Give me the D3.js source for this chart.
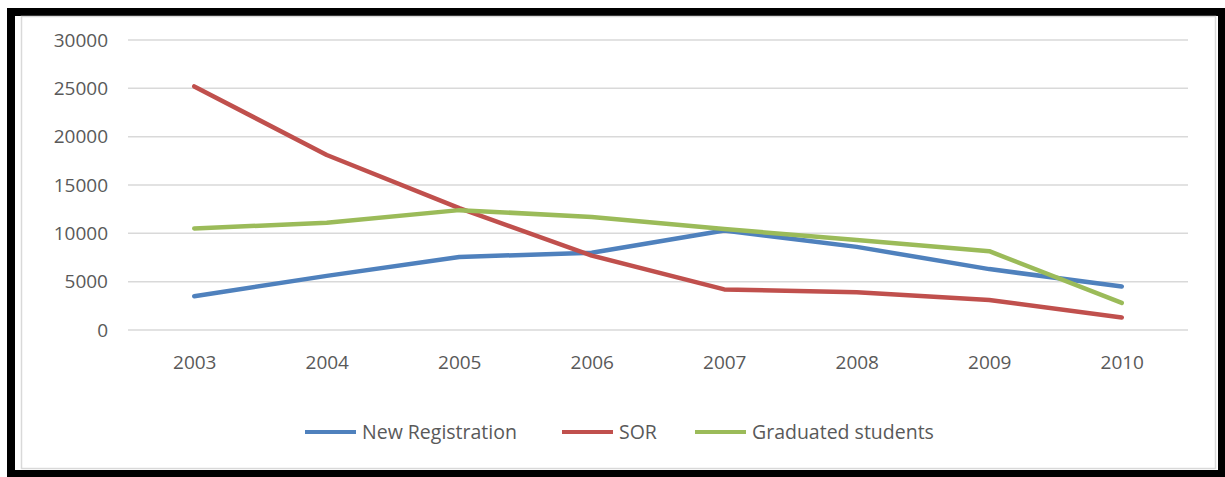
<!DOCTYPE html>
<html>
<head>
<meta charset="utf-8">
<script src="https://cdn.jsdelivr.net/npm/d3@7"></script>
<style>
  body { margin: 0; background: #fff; }
  text { font-family: "Open Sans", sans-serif; fill: #595959; }
</style>
</head>
<body>
<svg id="chart" width="1225" height="477"></svg>
<script>
const years = ["2003", "2004", "2005", "2006", "2007", "2008", "2009", "2010"];
const newRegistration = [3500, 5600, 7550, 8000, 10300, 8600, 6300, 4500];
const sor = [25200, 18100, 12600, 7700, 4200, 3900, 3100, 1300];
const graduated = [10500, 11100, 12400, 11700, 10450, 9300, 8150, 2800];
const yTicks = [0, 5000, 10000, 15000, 20000, 25000, 30000];

const series = [
  { name: "New Registration", values: newRegistration, color: "#4f81bd" },
  { name: "SOR", values: sor, color: "#c0504d" },
  { name: "Graduated students", values: graduated, color: "#9bbb59" }
];

const svg = d3.select("#chart");

// outer frame
svg.append("rect")
  .attr("x", 11).attr("y", 12)
  .attr("width", 1211).attr("height", 462)
  .attr("fill", "none")
  .attr("stroke", "#000")
  .attr("stroke-width", 8);
svg.append("rect")
  .attr("x", 21.5).attr("y", 16.5)
  .attr("width", 1194).attr("height", 452)
  .attr("fill", "none")
  .attr("stroke", "#d9d9d9")
  .attr("stroke-width", 1.5);

const x = d3.scalePoint()
  .domain(years)
  .range([128, 1188])
  .padding(0.5);

const y = d3.scaleLinear()
  .domain([0, 30000])
  .range([330, 40]);

// gridlines
svg.append("g")
  .selectAll("line")
  .data(yTicks)
  .enter()
  .append("line")
  .attr("x1", 128)
  .attr("x2", 1188)
  .attr("y1", d => y(d))
  .attr("y2", d => y(d))
  .attr("stroke", "#d9d9d9")
  .attr("stroke-width", 1.5);

const yAxis = svg.append("g")
  .attr("transform", "translate(108,0)")
  .call(d3.axisLeft(y).tickValues(yTicks).tickFormat(d3.format("d")).tickSize(0).tickPadding(0));
yAxis.select(".domain").remove();
yAxis.selectAll("text")
  .style("font-size", "19px")
  .style("font-family", "'Open Sans', sans-serif")
  .attr("fill", "#595959");

const xAxis = svg.append("g")
  .attr("transform", "translate(0,355)")
  .call(d3.axisBottom(x).tickSize(0).tickPadding(0));
xAxis.select(".domain").remove();
xAxis.selectAll("text")
  .style("font-size", "19px")
  .style("font-family", "'Open Sans', sans-serif")
  .attr("fill", "#595959");

const line = d3.line()
  .x((d, i) => x(years[i]))
  .y(d => y(d));

svg.selectAll(".series")
  .data(series)
  .enter()
  .append("path")
  .attr("class", "series")
  .attr("d", d => line(d.values))
  .attr("fill", "none")
  .attr("stroke", d => d.color)
  .attr("stroke-width", 4.5)
  .attr("stroke-linejoin", "round")
  .attr("stroke-linecap", "round");

// legend
const legendX = [305, 562, 695];
const legend = svg.selectAll(".legend")
  .data(series)
  .enter()
  .append("g")
  .attr("class", "legend")
  .attr("transform", (d, i) => `translate(${legendX[i]},432)`);

legend.append("line")
  .attr("x1", 0).attr("x2", 51)
  .attr("stroke", d => d.color)
  .attr("stroke-width", 4);

legend.append("text")
  .attr("x", 57)
  .attr("dy", "0.35em")
  .style("font-size", "19.5px")
  .text(d => d.name);
</script>
</body>
</html>
